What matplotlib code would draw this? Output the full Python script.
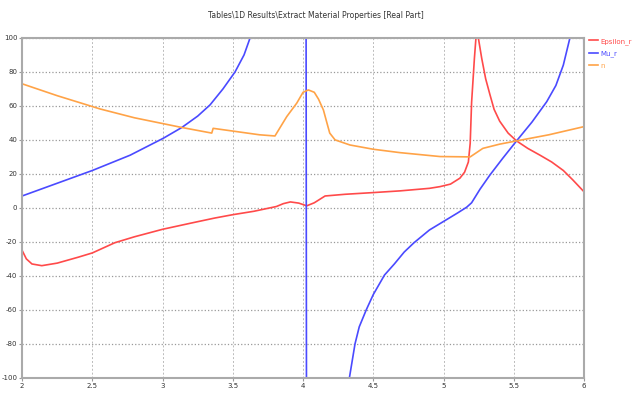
import matplotlib
matplotlib.use('Agg')
import matplotlib.pyplot as plt

# values (values beyond +/-100 are clipped by the axes)
eps_x = [2.0, 2.03, 2.07, 2.14, 2.25, 2.4, 2.5, 2.66, 2.8, 3.0, 3.2, 3.37, 3.5, 3.65,
         3.81, 3.86, 3.91, 3.97, 4.026, 4.08, 4.157, 4.3, 4.5, 4.69, 4.9, 4.975, 5.05,
         5.117, 5.15, 5.177, 5.19, 5.20, 5.21, 5.22, 5.231, 5.236,
         5.243, 5.248, 5.26, 5.272, 5.30, 5.331, 5.36, 5.40, 5.46, 5.52, 5.6, 5.687,
         5.77, 5.853, 5.92, 6.0]
eps_y = [-25, -30, -33, -34, -32.5, -29, -26.5, -20.5, -17, -12.6, -9, -6, -4, -2,
         0.8, 2.5, 3.5, 2.8, 1.2, 3, 7, 8, 9, 10, 11.5, 12.5, 14, 17.5, 21, 27, 38, 62,
         75, 88, 100, 200,
         200, 100, 94, 88, 76, 66.5, 58, 51, 44, 39.4, 35, 31, 27, 22, 16.5, 9.5]

mu_x = [2.0, 2.25, 2.5, 2.769, 3.006, 3.137, 3.25, 3.338, 3.43, 3.516, 3.58, 3.623,
        3.66, 4.018, 4.028, 4.30, 4.33, 4.37, 4.40, 4.45, 4.5, 4.58, 4.65, 4.72, 4.79,
        4.9, 5.02, 5.1, 5.165, 5.2, 5.26, 5.331, 5.42, 5.52, 5.63, 5.735, 5.8, 5.853,
        5.90, 5.93, 5.993, 6.0]
mu_y = [7, 14.5, 22, 31, 41, 47.3, 54, 60.6, 70, 80, 90, 100,
        130, 400, -400, -130, -100, -80, -70, -60, -51, -39.5, -33, -26, -20.5,
        -13, -7, -3, 0.4, 3, 11, 19.4, 29, 39.4, 50.5, 62.5, 72, 84,
        100, 130, 200, 76]

n_x = [2.0, 2.25, 2.555, 2.8, 3.137, 3.35, 3.36, 3.69, 3.80, 3.884, 3.955, 4.0,
       4.038, 4.08, 4.11, 4.145, 4.17, 4.19, 4.228, 4.334, 4.5, 4.69, 4.975, 5.19,
       5.28, 5.4, 5.52, 5.75, 6.0]
n_y = [73, 66, 58.2, 53, 47.3, 44, 46.8, 43, 42.3, 53.7, 61.6, 68,
       69.4, 68, 64, 57.6, 50, 44, 40, 37, 34.5, 32.5, 30.2, 30,
       35, 37.5, 39.4, 43, 47.8]

x_ticks = [2, 2.5, 3, 3.5, 4, 4.5, 5, 5.5, 6]
x_labels = ['2', '2.5', '3', '3.5', '4', '4.5', '5', '5.5', '6']
y_ticks = list(range(-100, 101, 20))

narrow = ['Liberation Sans Narrow', 'DejaVu Sans']

fig = plt.figure(figsize=(6.32, 3.99), dpi=100)
ax = fig.add_axes([0.035, 0.053, 0.889, 0.852])

ax.plot(eps_x, eps_y, color='#ff4a4a', lw=1.2, label='Epsilon_r')
ax.plot(mu_x, mu_y, color='#4a4aff', lw=1.2, label='Mu_r')
ax.plot(n_x, n_y, color='#ffa347', lw=1.2, label='n')

ax.set_xlim(2, 6)
ax.set_ylim(-100, 100)
ax.set_xticks(x_ticks)
ax.set_xticklabels(x_labels, family=narrow)
ax.set_yticks(y_ticks)
ax.set_yticklabels([str(v) for v in y_ticks], family=narrow)
ax.tick_params(labelsize=5, length=2, color='#999999', labelcolor='#333333', pad=1.5)
ax.grid(True, axis='y', ls=':', color='#999999', lw=0.9)
ax.grid(True, axis='x', ls=(0, (2, 2)), color='#bbbbbb', lw=0.7)
for s in ax.spines.values():
    s.set_color('#aaaaaa')
    s.set_linewidth(1.5)

fig.text(0.5, 0.962, 'Tables\\1D Results\\Extract Material Properties [Real Part]',
         ha='center', va='center', fontsize=5.5, color='#333333', family=narrow)

fig.legend(loc='upper left', bbox_to_anchor=(0.932, 0.905), frameon=False,
           prop={'family': narrow, 'size': 5}, handlelength=1.3, handletextpad=0.3,
           labelspacing=0.8, labelcolor='linecolor', borderaxespad=0, borderpad=0)

fig.savefig('out.png', dpi=100)
